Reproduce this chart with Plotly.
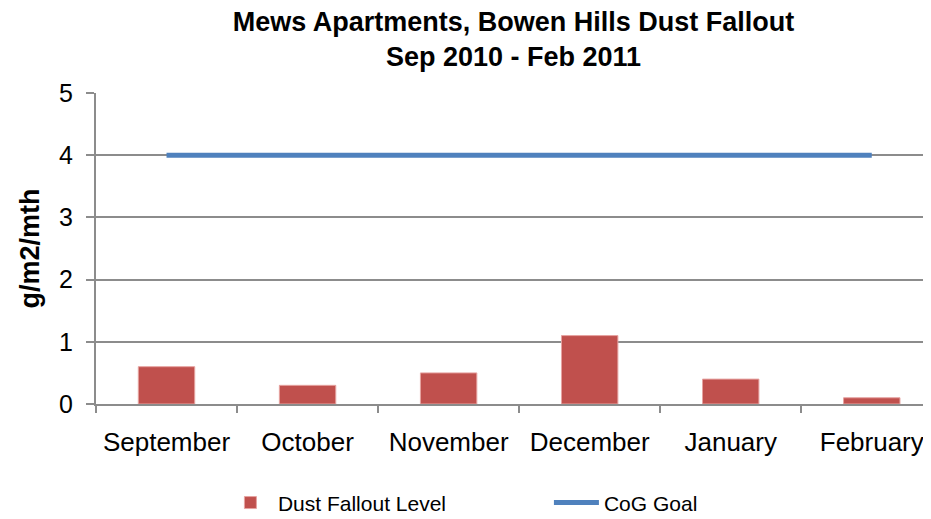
import plotly.graph_objects as go

months = ["September", "October", "November", "December", "January", "February"]
dust_fallout = [0.6, 0.3, 0.5, 1.1, 0.4, 0.1]
cog_goal = [4, 4, 4, 4, 4, 4]
y_ticks = [0, 1, 2, 3, 4, 5]

FONT = "Liberation Sans, Arial, sans-serif"
GRID = "#8c8c8c"

fig = go.Figure()
fig.add_trace(go.Bar(
    x=months, y=dust_fallout, name="Dust Fallout Level",
    marker=dict(color="#C0504D", line=dict(color="#E6A3A1", width=1)),
    width=0.4,
))
fig.add_trace(go.Scatter(
    x=months, y=cog_goal, name="CoG Goal", mode="lines",
    line=dict(color="#4F81BD", width=5),
))

# page body has an 8px margin, so the figure is sized to end at the window edge
fig.update_layout(
    width=923, height=511,
    margin=dict(l=88, r=0, t=85, b=115, autoexpand=False),
    paper_bgcolor="white", plot_bgcolor="white",
    font=dict(family=FONT, color="black"),
    title=dict(
        text="<b>Mews Apartments, Bowen Hills Dust Fallout<br>Sep 2010 - Feb 2011</b>",
        x=0.5, xref="paper", xanchor="center",
        y=0.955, yref="container", yanchor="middle",
        font=dict(size=27, family=FONT, color="black"),
    ),
    showlegend=True,
    legend=dict(
        orientation="h", x=0.152, xanchor="left", y=-0.318, yanchor="middle",
        font=dict(size=21, family=FONT), itemwidth=45,
        entrywidth=266, traceorder="normal",
    ),
    bargap=0.6,
)
fig.update_xaxes(
    type="category", range=[-0.5, 5.42],
    showline=True, linecolor=GRID, linewidth=2,
    ticks="outside", tickson="boundaries", ticklen=7, tickcolor=GRID, tickwidth=2,
    tickfont=dict(size=26, family=FONT), showgrid=False,
    ticklabelstandoff=14,
)
fig.update_yaxes(
    range=[0, 5], tickvals=y_ticks, showline=True, linecolor=GRID, linewidth=2,
    showgrid=True, gridcolor=GRID, gridwidth=2, zeroline=False,
    ticks="outside", ticklen=8, tickcolor=GRID, tickwidth=2,
    tickfont=dict(size=25, family=FONT),
    title=dict(text="<b>g/m2/mth</b>", font=dict(size=27, family=FONT), standoff=12),
    ticklabelstandoff=8,
)

fig.write_html("out.html")
